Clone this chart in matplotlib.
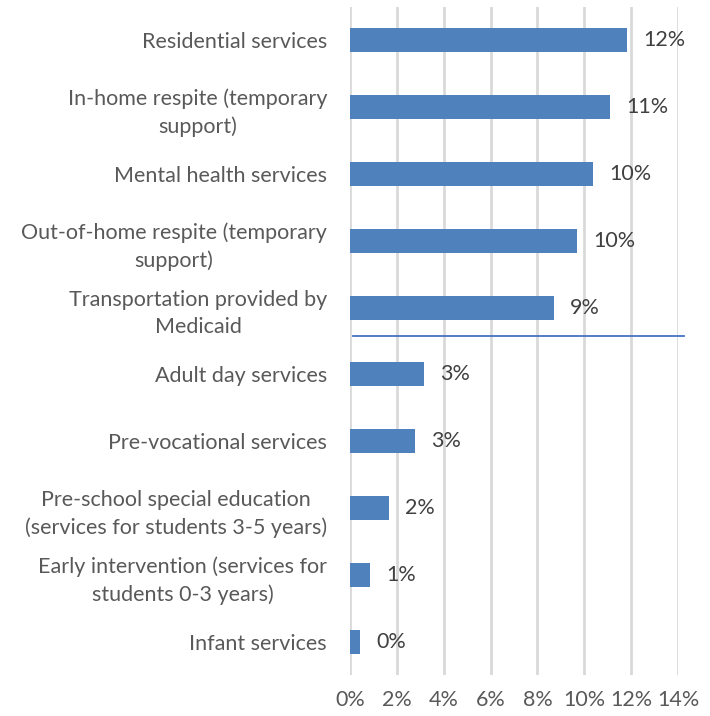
import matplotlib

matplotlib.use("Agg")
import matplotlib.pyplot as plt
import numpy as np

categories = [
    "Residential services",
    "In-home respite (temporary\nsupport)",
    "Mental health services",
    "Out-of-home respite (temporary\nsupport)",
    "Transportation provided by\nMedicaid",
    "Adult day services",
    "Pre-vocational services",
    "Pre-school special education\n(services for students 3-5 years)",
    "Early intervention (services for\nstudents 0-3 years)",
    "Infant services",
]
shares = [0.1184, 0.1111, 0.1038, 0.0970, 0.0870, 0.0316, 0.0278, 0.0167, 0.0085, 0.0043]
x_ticks = [0.0, 0.02, 0.04, 0.06, 0.08, 0.10, 0.12, 0.14]

BAR_COLOR = "#4F81BD"
GRID_COLOR = "#D9D9D9"
TEXT_COLOR = "#595959"
FS = 15.5

plt.rcParams["font.family"] = ["Lato", "DejaVu Sans"]

fig = plt.figure(figsize=(7.1, 7.16), dpi=100)
ax = fig.add_axes([0.493, 0.0573, 0.462, 0.933])

y = np.arange(len(categories))
ax.barh(y, shares, height=0.36, color=BAR_COLOR, zorder=3)
ax.set_ylim(len(categories) - 0.5, -0.5)
ax.set_xlim(0, 0.14)

for yi, val in zip(y, shares):
    ax.text(val + 0.0068, yi, f"{val * 100:.0f}%", va="center", ha="left",
            fontsize=FS, color="#404040")

ax.set_xticks(x_ticks)
ax.set_xticklabels([f"{t * 100:.0f}%" for t in x_ticks], fontsize=FS, color=TEXT_COLOR)
ax.set_yticks(y)
ax.set_yticklabels(categories, fontsize=FS, color=TEXT_COLOR)
for lbl in ax.get_yticklabels():
    lbl.set_multialignment("center")
    lbl.set_linespacing(1.45)
ax.tick_params(axis="both", length=0)
ax.tick_params(axis="y", pad=16.5)
ax.tick_params(axis="x", pad=11)

ax.grid(axis="x", color=GRID_COLOR, linewidth=2, zorder=0)
ax.grid(axis="y", visible=False)
for spine in ax.spines.values():
    spine.set_visible(False)

# divider between the top five and the rest
ax.axhline(4.42, xmin=0.009, xmax=1.018, color="#4472C4", linewidth=1.3, clip_on=False, zorder=4)

fig.savefig("out.png", dpi=100)
